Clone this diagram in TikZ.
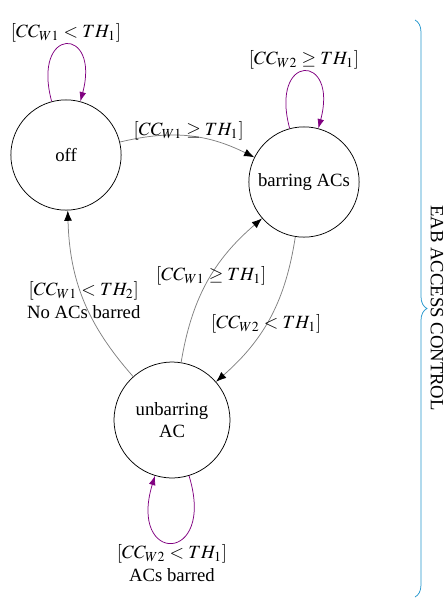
\documentclass[tikz,border=0pt]{standalone}
\usepackage{mathptmx}
\usepackage[no-math]{fontspec}
\setmainfont{Liberation Serif}
\usetikzlibrary{positioning,calc,arrows.meta}
\usetikzlibrary{automata,decorations.pathreplacing}
\definecolor{loopcol}{RGB}{128,0,128}
\definecolor{bracecol}{RGB}{35,150,205}

\begin{document}
\begin{tikzpicture}[x=0.535pt, y=-0.535pt,
  st/.style={circle, draw, thin, minimum size=59pt, align=center},
  tr/.style={draw=gray, thin, -{Latex[black, length=5.5pt, width=4.2pt]}},
  lp/.style={draw=loopcol, thin, -{Latex[length=5pt, width=3.6pt]}, looseness=7},
  lbl/.style={align=center, inner sep=1pt}]
\useasboundingbox (0,0) rectangle (446,601);

\node[st] (off) at (66,155) {off};
\node[st] (bar) at (304,182) {barring ACs};
\node[st, minimum size=62pt] (unbar) at (172,420) {unbarring\\AC};

% loops
\draw[lp] (off) to[out=105,in=75] node[lbl, above] {$[CC_{W1} < TH_1]$} (off);
\draw[lp] (bar) to[out=105,in=75] node[lbl, above] {$[CC_{W2} \geq TH_1]$} (bar);
\draw[lp] (unbar) to[out=-73,in=-107] node[lbl, below] {$[CC_{W2} < TH_1]$\\ACs barred} (unbar);

% transitions
\draw[tr] (off) to[bend left=20] node[lbl, midway, yshift=3pt] {$[CC_{W1} \geq TH_1]$} (bar);
\draw[tr] (unbar) to[bend left=20] node[lbl, midway] {$[CC_{W1} < TH_2]$\\No ACs barred} (off);
\draw[tr] (unbar) to[bend left=20] node[lbl, pos=.55] {$[CC_{W1} \geq TH_1]$} (bar);
\draw[tr] (bar) to[bend left=20] node[lbl, pos=.55] {$[CC_{W2} < TH_1]$} (unbar);

% brace
\coordinate (bt) at (415,20);
\coordinate (bb) at (415,597);
\draw[bracecol, thin, decorate, decoration={brace, amplitude=6.4pt}] (bt) -- (bb);
\node[rotate=-90] (eab) at (437,308) {EAB ACCESS CONTROL};
\end{tikzpicture}
\end{document}
